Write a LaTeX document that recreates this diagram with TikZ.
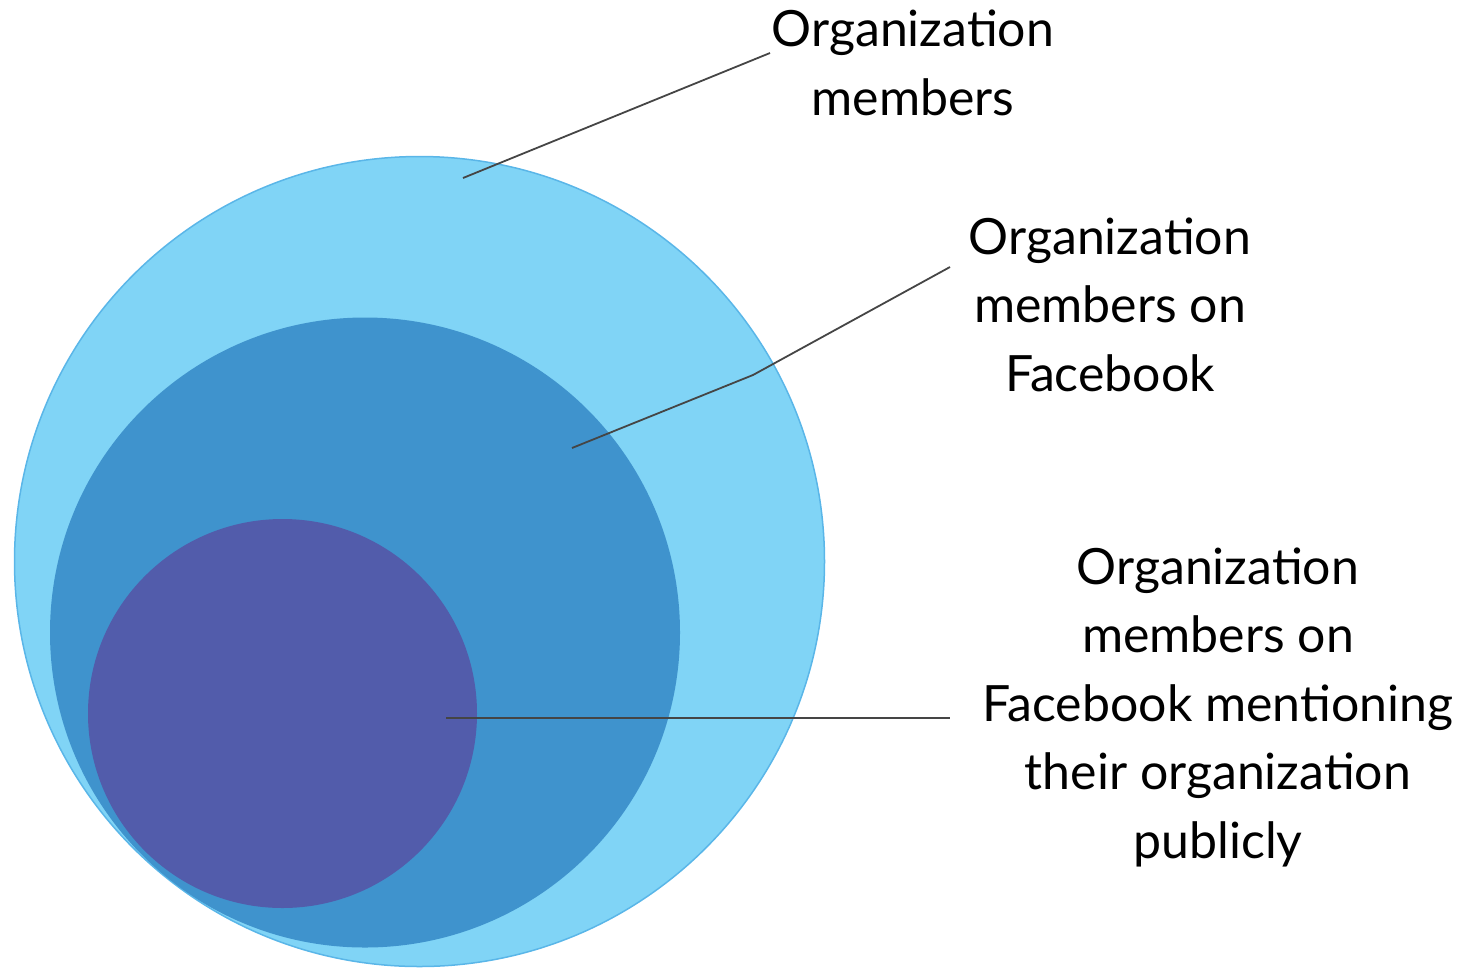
\documentclass[tikz,border=0pt]{standalone}
\usepackage{fontspec}
\setmainfont{Lato}
\definecolor{outerfill}{HTML}{80D4F6}
\definecolor{outerline}{HTML}{5AB6E8}
\definecolor{midfill}{HTML}{3F93CD}
\definecolor{innerfill}{HTML}{525CAB}
\definecolor{leader}{HTML}{454545}
\begin{document}
\begin{tikzpicture}[x=1pt,y=-1pt,
  disc/.style={circle,inner sep=0pt,outer sep=0pt},
  label/.style={align=center,anchor=base,inner sep=0pt,font=\fontsize{50}{68.5}\selectfont,text=black},
  leaderline/.style={draw=leader,line width=1.8pt}]
\useasboundingbox (0,0) rectangle (1466,970);
\node[disc,fill=outerfill,draw=outerline,line width=1.5pt,minimum size=810pt] (outer) at (419.5,561.5) {};
\node[disc,fill=midfill,minimum size=630pt] (mid) at (365,632.5) {};
\node[disc,fill=innerfill,minimum size=389pt] (inner) at (282.5,713.5) {};
% multi-line nodes: base anchor = baseline of last line
\node[label] (t1) at (913,115) {Organization\\members};
\node[label] (t2) at (1110,391) {Organization\\members on\\Facebook};
\node[label] (t3) at (1218,858) {Organization\\members on\\Facebook mentioning\\their organization\\publicly};
\coordinate (p1) at (463,178);
\coordinate (q1) at (770,53);
\coordinate (p2) at (572,448);
\coordinate (b2) at (753,375);
\coordinate (q2) at (950,267);
\coordinate (p3) at (446,718);
\coordinate (q3) at (950,718);
\draw[leaderline] (p1) -- (q1);
\draw[leaderline] (p2) -- (b2) -- (q2);
\draw[leaderline] (p3) -- (q3);
\end{tikzpicture}
\end{document}
